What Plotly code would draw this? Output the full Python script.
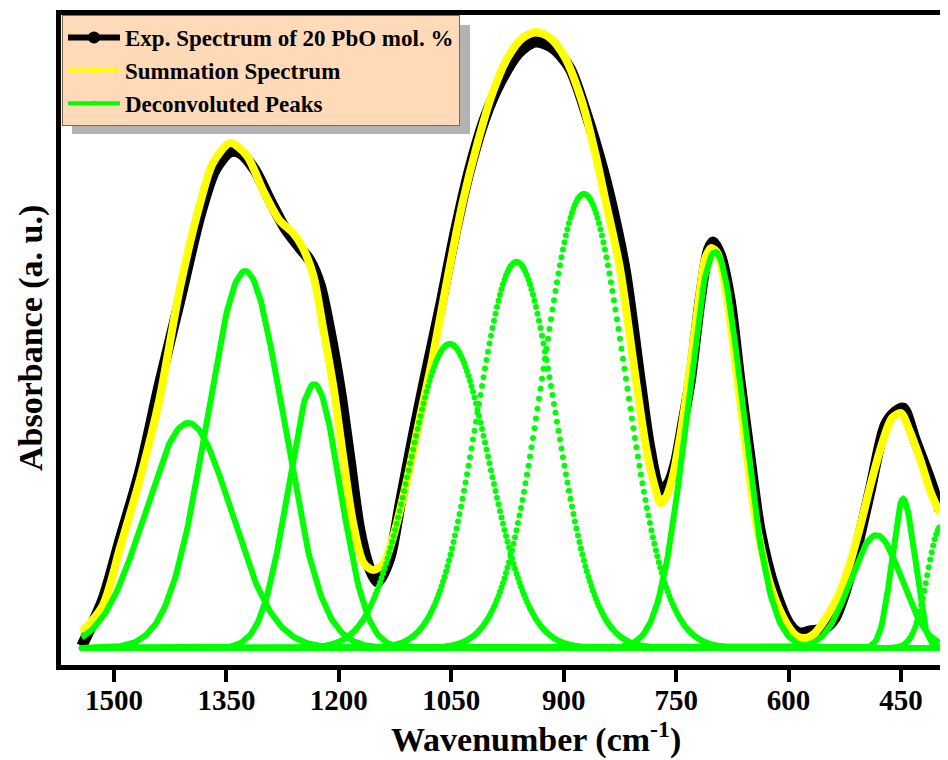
import numpy as np
import plotly.graph_objects as go

# ---------------- data ----------------
exp_wn = [1543, 1515, 1492, 1465, 1439, 1412, 1385, 1365, 1345, 1332, 1312, 1292, 1272,
          1252, 1239, 1225, 1212, 1198, 1185, 1172, 1158, 1148, 1132, 1118, 1100, 1085,
          1065, 1045, 1025, 1005, 985, 960, 938, 915, 892, 868, 850, 838, 818, 798, 785,
          771, 760, 751, 741, 731, 718, 707, 701, 691, 678, 665, 651, 638, 618, 598, 585,
          571, 551, 538, 525, 511, 491, 471, 458, 447, 431, 411, 398]
exp_abs = [0.004, 0.096, 0.216, 0.356, 0.53, 0.696, 0.866, 0.956, 0.992, 0.99, 0.956, 0.896,
           0.84, 0.80, 0.776, 0.726, 0.636, 0.516, 0.376, 0.236, 0.156, 0.132, 0.18, 0.29,
           0.43, 0.54, 0.68, 0.83, 0.96, 1.06, 1.13, 1.19, 1.212, 1.20, 1.16, 1.06, 0.97,
           0.90, 0.756, 0.536, 0.40, 0.316, 0.33, 0.37, 0.45, 0.536, 0.696, 0.796, 0.812,
           0.786, 0.696, 0.536, 0.376, 0.236, 0.116, 0.046, 0.03, 0.034, 0.04, 0.06, 0.11,
           0.186, 0.316, 0.446, 0.472, 0.48, 0.416, 0.336, 0.276]

sum_wn = [1543, 1515, 1492, 1465, 1439, 1412, 1385, 1368, 1345, 1323, 1301, 1279, 1261,
          1248, 1234, 1221, 1207, 1194, 1181, 1167, 1154, 1140, 1128, 1110, 1092, 1075,
          1055, 1035, 1015, 995, 975, 955, 937, 918, 898, 875, 858, 845, 825, 805, 790,
          778, 771, 764, 755, 745, 735, 722, 711, 703, 695, 683, 670, 656, 643, 623, 603,
          590, 578, 565, 550, 535, 520, 505, 490, 475, 462, 450, 440, 425, 410, 398]
sum_abs = [0.032, 0.085, 0.20, 0.34, 0.50, 0.72, 0.89, 0.97, 1.01, 0.985, 0.915, 0.855,
           0.83, 0.80, 0.745, 0.64, 0.52, 0.38, 0.25, 0.17, 0.156, 0.17, 0.22, 0.33, 0.46,
           0.58, 0.74, 0.89, 1.01, 1.11, 1.18, 1.22, 1.232, 1.22, 1.18, 1.09, 0.99, 0.90,
           0.76, 0.55, 0.40, 0.32, 0.29, 0.30, 0.34, 0.42, 0.52, 0.67, 0.78, 0.80, 0.79,
           0.71, 0.56, 0.39, 0.25, 0.12, 0.05, 0.025, 0.02, 0.03, 0.06, 0.10, 0.16, 0.24,
           0.33, 0.41, 0.46, 0.47, 0.44, 0.38, 0.31, 0.27]

# deconvoluted Gaussian peaks: centre (cm-1), height (a.u.), FWHM (cm-1)
peak_center = [1401, 1325, 1233, 1052, 963, 873, 698, 483, 447, 396]
peak_height = [0.45, 0.754, 0.528, 0.608, 0.772, 0.908, 0.792, 0.226, 0.298, 0.244]
peak_fwhm = [135, 120, 82, 125, 123, 129, 87, 80, 35, 44]
peak_dotted = [False, False, False, True, True, True, False, False, False, True]

wn_start, wn_end, wn_step = 1543, 398, 2.0
tick_vals = [1500, 1350, 1200, 1050, 900, 750, 600, 450]

legend_names = ["Exp. Spectrum of 20 PbO mol. %", "Summation Spectrum", "Deconvoluted Peaks"]

# ---------------- figure ----------------
BLACK = "#000000"
YELLOW = "#FFFF00"
GREEN = "#00FF00"
FONT = "Liberation Serif, Times New Roman, serif"

fig = go.Figure()

fig.add_trace(go.Scatter(x=exp_wn, y=exp_abs, mode="lines",
                         line=dict(color=BLACK, width=11, shape="spline", smoothing=0.8),
                         showlegend=False, hoverinfo="skip"))
fig.add_trace(go.Scatter(x=sum_wn, y=sum_abs, mode="lines",
                         line=dict(color=YELLOW, width=8, shape="spline", smoothing=0.8),
                         showlegend=False, hoverinfo="skip"))

grid = np.arange(wn_start, wn_end - 0.01, -wn_step)
for c, h, w, dotted in zip(peak_center, peak_height, peak_fwhm, peak_dotted):
    y = h * np.exp(-4 * np.log(2) * (grid - c) ** 2 / w ** 2)
    if dotted:
        fig.add_trace(go.Scatter(x=grid, y=y, mode="markers",
                                 marker=dict(color=GREEN, size=6, line=dict(width=0)),
                                 showlegend=False, hoverinfo="skip"))
    else:
        fig.add_trace(go.Scatter(x=grid, y=y, mode="lines",
                                 line=dict(color=GREEN, width=6),
                                 showlegend=False, hoverinfo="skip"))

# legend entries
fig.add_trace(go.Scatter(x=[None], y=[None], mode="lines+markers", name=legend_names[0],
                         line=dict(color=BLACK, width=6), marker=dict(color=BLACK, size=12)))
fig.add_trace(go.Scatter(x=[None], y=[None], mode="lines+markers", name=legend_names[1],
                         line=dict(color=YELLOW, width=4), marker=dict(color=YELLOW, size=7)))
fig.add_trace(go.Scatter(x=[None], y=[None], mode="lines+markers", name=legend_names[2],
                         line=dict(color=GREEN, width=4), marker=dict(color=GREEN, size=5)))

# page has an 8px body margin: work in reference pixel coordinates minus that offset
OFF = 8
W, H = 948 - OFF, 760 - OFF
ML, MT = 61 - OFF, 15 - OFF
MB = (760 - 665)
MR = 0
pw, ph = W - ML - MR, H - MT - MB

def px_x(x):
    return (x - OFF - ML) / pw

def px_y(y):
    return (H - MB - (y - OFF)) / ph

fig.update_layout(
    width=W, height=H,
    margin=dict(l=ML, r=MR, t=MT, b=MB),
    paper_bgcolor="white", plot_bgcolor="white",
    showlegend=True,
    legend=dict(x=px_x(62), y=px_y(15), xanchor="left", yanchor="top",
                bgcolor="#FFDAB9", bordercolor="#7A6A58", borderwidth=1,
                font=dict(family=FONT, size=23, color=BLACK, weight="bold"),
                itemwidth=52, tracegroupgap=0),
    shapes=[dict(type="rect", xref="paper", yref="paper",
                 x0=px_x(72), x1=px_x(470), y0=px_y(134), y1=px_y(25),
                 fillcolor="#B3B3B3", line=dict(width=0), layer="above")],
    annotations=[
        dict(text="<b>Wavenumber (cm<sup>-1</sup>)</b>", xref="paper", yref="paper",
             x=px_x(536), y=px_y(737), xanchor="center", yanchor="middle", showarrow=False,
             font=dict(family=FONT, size=34, color=BLACK)),
        dict(text="<b>Absorbance (a. u.)</b>", xref="paper", yref="paper",
             x=px_x(31), y=px_y(338), xanchor="center", yanchor="middle", showarrow=False,
             textangle=-90, font=dict(family=FONT, size=34, color=BLACK)),
    ],
)

# axis range so that 1500 -> x=114 and 450 -> x=901 (reference pixels)
ppu = (901 - 114) / 1050.0
x_left = 1500 + (114 - 61) / ppu
x_right = x_left - (948 - 61) / ppu
fig.update_xaxes(range=[x_left, x_right], tickvals=tick_vals, ticktext=[str(v) for v in tick_vals],
                 ticks="outside", ticklen=12, tickwidth=4, tickcolor=BLACK,
                 ticklabelstandoff=-7,
                 showline=True, linewidth=5, linecolor=BLACK, mirror=True,
                 showgrid=False, zeroline=False,
                 tickfont=dict(family=FONT, size=29, color=BLACK, weight="bold"))
fig.update_yaxes(range=[-0.034, 1.266], showticklabels=False, ticks="",
                 showline=True, linewidth=5, linecolor=BLACK, mirror=False,
                 showgrid=False, zeroline=False)

fig.write_html("out.html")
